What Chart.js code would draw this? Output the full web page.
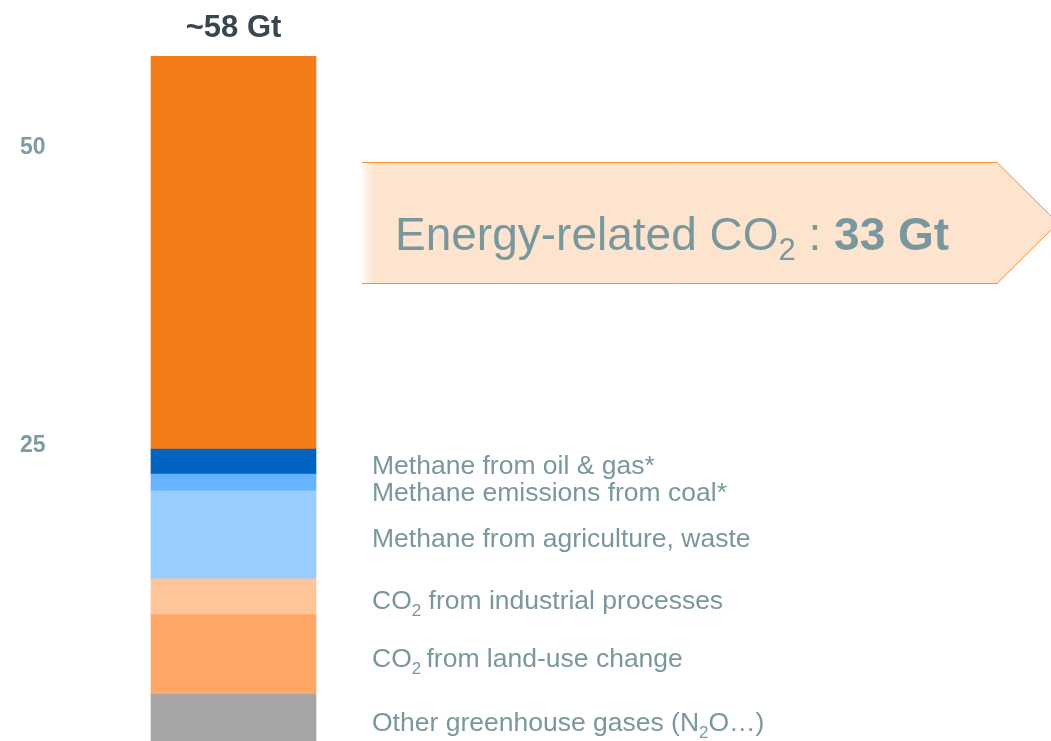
<!DOCTYPE html>
<html>
<head>
<meta charset="utf-8">
<script src="https://cdn.jsdelivr.net/npm/chart.js@4"></script>
<style>
  html, body { margin: 0; padding: 0; background: #fff; overflow: hidden; }
  #wrap { position: relative; width: 1051px; height: 760px; }
</style>
</head>
<body>
<div id="wrap"><canvas id="chart"></canvas></div>
<script>
/* ── Data (bottom of the stack first) ───────────────── */
const categories = ['2022'];
const seriesNames = [
  'Other greenhouse gases',
  'CO2 from land-use change',
  'CO2 from industrial processes',
  'Methane from agriculture, waste',
  'Methane emissions from coal',
  'Methane from oil & gas',
  'Energy-related CO2'
];
const seriesValues = [4.1, 6.7, 3.0, 7.4, 1.4, 2.1, 33];
const seriesColors = ['#a6a6a6', '#fea766', '#fec59b', '#99ccff', '#66b3ff', '#0064c0', '#f47c17'];
const tickValues = [25, 50];
const totalLabel = '~58 Gt';

// side labels, as [text, 'n' | 's'] parts (s = subscript); null = no side label
const sideLabels = [
  [['Other greenhouse gases (N', 'n'], ['2', 's'], ['O\u2026)', 'n']],
  [['CO', 'n'], ['2', 's'], ['\u2009from land-use change', 'n']],
  [['CO', 'n'], ['2', 's'], [' from industrial processes', 'n']],
  [['Methane from agriculture, waste', 'n']],
  [['Methane emissions from coal*', 'n']],
  [['Methane from oil & gas*', 'n']],
  null
];

const GREY_TEXT = '#7a979e';
const FONT = '"Liberation Sans", Arial, sans-serif';

/* ── Helpers ────────────────────────────────────────── */
function drawParts(ctx, parts, x, base, size, subSize, subDrop, boldFrom) {
  parts.forEach(([txt, kind], i) => {
    const bold = boldFrom !== undefined && i >= boldFrom;
    const sz = kind === 's' ? subSize : size;
    ctx.font = (bold ? 'bold ' : '') + sz + 'px ' + FONT;
    ctx.fillText(txt, x, kind === 's' ? base + subDrop : base);
    x += ctx.measureText(txt).width;
  });
}

/* ── Annotation plugin ──────────────────────────────── */
const annotate = {
  id: 'annotate',
  afterDraw(chart) {
    const ctx = chart.ctx;
    ctx.save();
    ctx.textBaseline = 'alphabetic';
    ctx.textAlign = 'left';

    // total above the bar
    const topBar = chart.getDatasetMeta(seriesValues.length - 1).data[0];
    ctx.fillStyle = '#37474f';
    ctx.font = 'bold 31px ' + FONT;
    ctx.textAlign = 'center';
    ctx.fillText(totalLabel, topBar.x, topBar.y - 19);
    ctx.textAlign = 'left';

    // side labels at segment middles, pushed apart when crowded
    ctx.fillStyle = GREY_TEXT;
    let prev = -Infinity;
    for (let i = seriesValues.length - 1; i >= 0; i--) {
      if (!sideLabels[i]) continue;
      const el = chart.getDatasetMeta(i).data[0];
      let mid = (el.y + el.base) / 2;
      mid = Math.max(mid, prev + 27);
      prev = mid;
      drawParts(ctx, sideLabels[i], 372, mid + 12, 26.5, 17, 7);
    }

    // energy arrow banner
    const L = 360, T = 162, B = 284, S = 997, TIP = 1058;
    const M = (T + B) / 2;
    const g = ctx.createLinearGradient(L, 0, L + 14, 0);
    g.addColorStop(0, 'rgba(252,228,207,0)');
    g.addColorStop(1, '#fce4cf');
    ctx.beginPath();
    ctx.moveTo(L, T); ctx.lineTo(S, T); ctx.lineTo(TIP, M); ctx.lineTo(S, B); ctx.lineTo(L, B);
    ctx.closePath();
    ctx.fillStyle = g;
    ctx.fill();
    ctx.beginPath();
    ctx.moveTo(L + 2, T + 0.5); ctx.lineTo(S, T + 0.5); ctx.lineTo(TIP, M); ctx.lineTo(S, B - 0.5); ctx.lineTo(L + 2, B - 0.5);
    ctx.strokeStyle = '#f7922e';
    ctx.lineWidth = 1;
    ctx.stroke();

    ctx.fillStyle = GREY_TEXT;
    drawParts(ctx, [['Energy-related CO', 'n'], ['2', 's'], [' : ', 'n'], [seriesValues[seriesValues.length - 1] + ' Gt', 'n']],
      395, 250, 46, 31, 10, 3);
    ctx.restore();
  }
};

/* ── Chart ──────────────────────────────────────────── */
new Chart(document.getElementById('chart'), {
  type: 'bar',
  data: {
    labels: categories,
    datasets: seriesNames.map((name, i) => ({
      label: name,
      data: [seriesValues[i]],
      backgroundColor: seriesColors[i],
      borderWidth: 0,
      barThickness: 165
    }))
  },
  options: {
    responsive: true,
    maintainAspectRatio: false,
    animation: false,
    layout: { padding: { left: 20, right: 664, top: 29, bottom: 11 } },
    plugins: { legend: { display: false }, tooltip: { enabled: false } },
    scales: {
      x: { stacked: true, display: false },
      y: {
        stacked: true,
        min: 0,
        max: 60,
        grid: { display: false },
        border: { display: false },
        afterBuildTicks: s => { s.ticks = tickValues.map(v => ({ value: v })); },
        afterFit: s => { s.width = 60; },
        ticks: {
          crossAlign: 'far',
          color: '#7f9ca3',
          font: { family: FONT, size: 23, weight: 'bold' }
        }
      }
    }
  },
  plugins: [annotate]
});
</script>
</body>
</html>
